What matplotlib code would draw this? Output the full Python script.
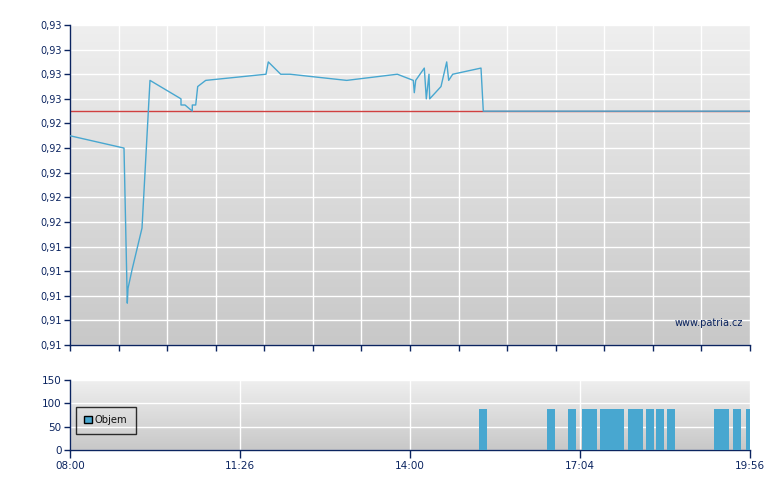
import numpy as np
import matplotlib
matplotlib.use("Agg")
import matplotlib.pyplot as plt
from matplotlib.colors import LinearSegmentedColormap
from matplotlib.patches import Patch

# session position (0..680) and price
price_pos = [0, 54, 57.3, 58, 62, 72, 80, 111, 111, 115, 122.3, 122.3, 125.7,
             127.7, 135.7, 196, 198.3, 210.7, 220, 276.7, 327.3, 343.3, 344.3,
             345.7, 354.3, 356.3, 359, 359.7, 371, 376.7, 378.7, 382.7, 411,
             413.3, 680]
price = [0.923, 0.922, 0.9094, 0.9106, 0.9121, 0.9155, 0.9275, 0.926, 0.9255,
         0.9255, 0.925, 0.9255, 0.9255, 0.927, 0.9275, 0.928, 0.929, 0.928,
         0.928, 0.9275, 0.928, 0.9275, 0.9265, 0.9275, 0.9285, 0.926, 0.928,
         0.926, 0.927, 0.929, 0.9275, 0.928, 0.9285, 0.925, 0.925]
prev_close = 0.925

vol_pos = [413, 480.5, 502, 516, 523, 534, 542, 550, 562, 569, 580, 590, 601,
           648, 655, 667, 680]
vol = [88] * len(vol_pos)

time_labels = ['08:00', '11:26', '14:00', '17:04', '19:56']
price_ticks = np.linspace(0.906, 0.932, 14)

navy = '#0b2460'
blue = '#48a7d0'
bg = LinearSegmentedColormap.from_list('bg', ['#efefef', '#c8c8c8'])
narrow = ['Liberation Sans Narrow', 'DejaVu Sans']

fig = plt.figure(figsize=(7.8, 4.9), dpi=100, facecolor='white')
ax = fig.add_axes([70 / 780, 1 - 345 / 490, 680 / 780, 320 / 490])
ax2 = fig.add_axes([70 / 780, 1 - 450 / 490, 680 / 780, 70 / 490])

for a in (ax, ax2):
    a.imshow(np.linspace(0, 1, 256).reshape(-1, 1), cmap=bg, extent=[0, 1, 0, 1],
             transform=a.transAxes, aspect='auto', zorder=-1)
    a.set_axisbelow(True)
    a.grid(True, color='white', linewidth=1)
    for s in ('top', 'right'):
        a.spines[s].set_visible(False)
    for s in ('left', 'bottom'):
        a.spines[s].set_color(navy)
        a.spines[s].set_linewidth(1)
    a.tick_params(colors=navy, width=1, length=4, pad=2)

# price panel
ax.plot(price_pos, price, color=blue, linewidth=1, zorder=3)
ax.axhline(prev_close, color='#d04040', linewidth=1, zorder=2)
ax.set_xlim(0, 680)
ax.set_ylim(price_ticks[0], price_ticks[-1])
ax.set_xticks(np.linspace(0, 680, 15))
ax.set_xticklabels([])
ax.set_yticks(price_ticks)
ax.set_yticklabels([f"{v:.2f}".replace('.', ',') for v in price_ticks], fontsize=7)
ax.text(0.99, 0.07, 'www.patria.cz', transform=ax.transAxes, ha='right',
        va='center', fontsize=7, color=navy)

# volume panel
ax2.bar(vol_pos, vol, width=8, color=blue, zorder=3)
ax2.set_xlim(0, 680)
ax2.set_ylim(0, 150)
ax2.set_yticks([0, 50, 100, 150])
ax2.set_yticklabels(['0', '50', '100', '150'], fontsize=7.5, family=narrow)
ax2.set_xticks(np.linspace(0, 680, 5))
ax2.set_xticklabels(time_labels, fontsize=7.5, family=narrow)
ax2.tick_params(axis='x', length=6)

leg = ax2.legend([Patch(facecolor=blue, edgecolor='black')], ['Objem'],
                 loc='center left', bbox_to_anchor=(5.5 / 680, 30 / 70),
                 fancybox=False, edgecolor='black', facecolor='none',
                 fontsize=7.2, handlelength=0.8, handleheight=0.8,
                 handletextpad=0.25, borderpad=0.85, borderaxespad=0)
leg.get_frame().set_linewidth(1)
for t in leg.get_texts():
    t.set_color('#111111')

fig.savefig('out.png', dpi=100, facecolor='white')
